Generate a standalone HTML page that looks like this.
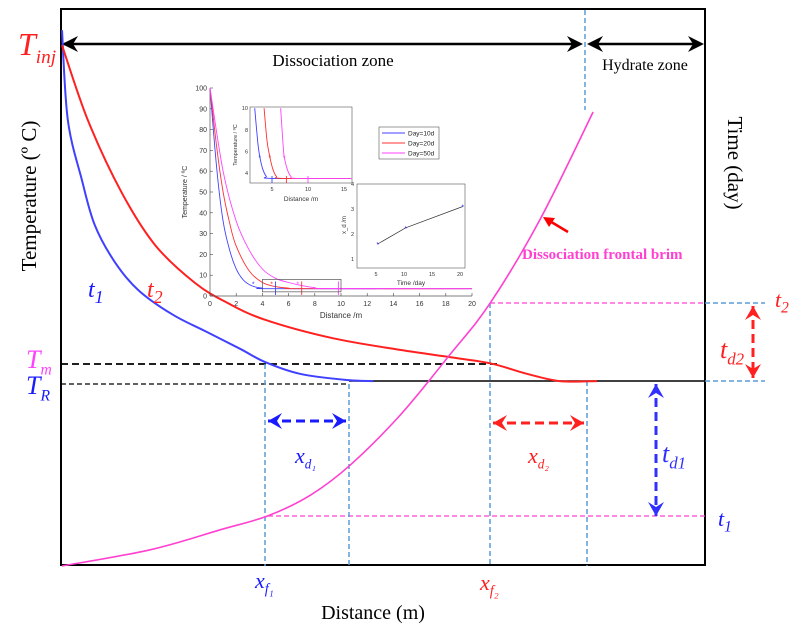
<!DOCTYPE html>
<html><head><meta charset="utf-8">
<style>
html,body{margin:0;padding:0;background:#fff;}
svg{display:block;font-family:"Liberation Serif",serif;}
.sans{font-family:"Liberation Sans",sans-serif;}
</style></head>
<body>
<svg id="fig" width="794" height="632" viewBox="0 0 794 632" xmlns="http://www.w3.org/2000/svg">
<g id="main"></g>
<g id="inset"></g>
</svg>
<script>
// ---- main schematic data (domain 0..100 both axes) ----
const blueX=[0,0.9,3.1,5.1,8.2,11.8,17.1,22.2,27.7,31.6,37,44.3,48.4];
const blueY=[96.2,80.1,69.3,61.2,54.6,49.6,45.2,42.2,39,36.6,34.5,33.4,33.2];
const redX=[0,4,9.3,14.5,20.7,25.8,31.6,42.1,52.6,60.3,66.6,72,77.4,83.2];
const redY=[93.5,80.1,67,57.6,50.8,47.2,44.2,40.9,38.8,37.5,36.4,34.6,33.2,33.2];
const frontX=[0,13.7,24.6,32,38.6,44.8,52.6,60.3,66.6,74.3,82.6];
const frontY=[0,2.9,6.5,9,12.7,18.1,27.1,37.9,47.2,62.1,81.5];
// ---- inset main plot ----
const insXTicks=[0,2,4,6,8,10,12,14,16,18,20];
const insYTicks=[0,10,20,30,40,50,60,70,80,90,100];
const d10X=[0,0.5,1,1.5,2,2.5,3,3.5,4,5,20], d10T=[100,62,36,22,13,8,5.5,4.3,3.8,3.5,3.5];
const d20X=[0,0.5,1,1.5,2,3,4,5,6,7,20], d20T=[100,72,50,35,24,12,6.5,4.5,3.8,3.5,3.5];
const d50X=[0,1,2,3,4,5,6,7,8,9,20], d50T=[100,60,36,22,13,8.5,6.5,5,4,3.6,3.5];
const markX=[3.3,4.7,6.7], markT=[6,6,6];
const frontLineX=[5,7,9.8];
// ---- zoom inset ----
const zXTicks=[5,10,15], zYTicks=[4,6,8,10];
const z10X=[2.6,3,3.3,3.7,4.2,5,16], z20X=[3.9,4.3,4.7,5.1,5.6,6.5,16], z50X=[6.2,6.5,6.7,7.1,7.6,8.5,16];
const zT=[10,7,5.5,4.4,3.7,3.5,3.5];
const zMarkX=[3.3,4.7,6.7], zMarkT=[5.5,5.5,5.5];
const zLineX=[5,7,10];
// ---- xd vs time inset ----
const tXTicks=[5,10,15,20], tYTicks=[1,2,3,4];
const timeDays=[5.3,10.3,20.5], xdVals=[1.6,2.25,3.1];
const colors=['#4040ff','#ff3030','#ff40ff'];

const NS='http://www.w3.org/2000/svg';
function mk(parent,tag,attrs,text){const e=document.createElementNS(NS,tag);for(const k in attrs)e.setAttribute(k,attrs[k]);if(text!==undefined)e.textContent=text;parent.appendChild(e);return e;}
const M=document.getElementById('main'), I=document.getElementById('inset');
const X=v=>62+v*6.43, Y=v=>566-v*5.57;
function path(xs,ys,fx,fy){return xs.map((x,i)=>(i?'L':'M')+fx(x).toFixed(1)+','+fy(ys[i]).toFixed(1)).join(' ');}
function smooth(xs,ys,fx,fy){const p=xs.map((x,i)=>[fx(x),fy(ys[i])]);let d='M'+p[0][0]+','+p[0][1];for(let i=0;i<p.length-1;i++){const p0=p[i-1]||p[i],p1=p[i],p2=p[i+1],p3=p[i+2]||p2;d+=' C'+(p1[0]+(p2[0]-p0[0])/6).toFixed(1)+','+(p1[1]+(p2[1]-p0[1])/6).toFixed(1)+' '+(p2[0]-(p3[0]-p1[0])/6).toFixed(1)+','+(p2[1]-(p3[1]-p1[1])/6).toFixed(1)+' '+p2[0].toFixed(1)+','+p2[1].toFixed(1);}return d;}

let e=mk(M,'rect',{x:61,y:9,width:644,height:556,fill:'none',stroke:'#000','stroke-width':2});

const L=(a,dn,st)=>{e=mk(M,'line',Object.assign({},a,st));};
const blueDash={stroke:'#5b9bd5','stroke-width':1.5,'stroke-dasharray':'5,3'};
L({x1:61,y1:364,x2:498,y2:364},'tm-line',{stroke:'#000','stroke-width':1.8,'stroke-dasharray':'7,4'});
L({x1:61,y1:384,x2:349,y2:384},'tr-line',{stroke:'#000','stroke-width':1.3,'stroke-dasharray':'5,3'});
L({x1:349,y1:381,x2:705,y2:381},'tr-solid-line',{stroke:'#000','stroke-width':1.5});
L({x1:490,y1:303,x2:705,y2:303},'t2-line',{stroke:'#ff40d0','stroke-width':1.3,'stroke-dasharray':'5,3'});
L({x1:705,y1:303,x2:765,y2:303},'t2-ext-line',blueDash);
L({x1:705,y1:381,x2:765,y2:381},'tr-ext-line',blueDash);
L({x1:268,y1:516,x2:705,y2:516},'t1-line',{stroke:'#ff40d0','stroke-width':1.3,'stroke-dasharray':'5,3'});
L({x1:265,y1:364,x2:265,y2:566},'xf1-line',blueDash);
L({x1:349,y1:384,x2:349,y2:566},'xf1-end-line',blueDash);
L({x1:490,y1:303,x2:490,y2:566},'xf2-line',blueDash);
L({x1:587,y1:381,x2:587,y2:566},'xf2-end-line',blueDash);
L({x1:585,y1:10,x2:585,y2:110},'zone-divider',blueDash);
function head(x,y,dir){mk(M,'path',{d:`M${x},44 L${x+dir*16},36 L${x+dir*11},44 L${x+dir*16},52 Z`,fill:'#000'});}
L({x1:64,y1:44,x2:580,y2:44},'dissociation-zone-arrow',{stroke:'#000','stroke-width':2.5});
head(62,44,1);head(583,44,-1);
L({x1:590,y1:44,x2:700,y2:44},'hydrate-zone-arrow',{stroke:'#000','stroke-width':2.5});
head(587,44,1);head(704,44,-1);
e=mk(M,'path',{d:smooth(blueX,blueY,X,Y),fill:'none',stroke:'#4040ff','stroke-width':2});
e=mk(M,'path',{d:smooth(redX,redY,X,Y),fill:'none',stroke:'#ff2020','stroke-width':2});
e=mk(M,'path',{d:smooth(frontX,frontY,X,Y),fill:'none',stroke:'#ff40d0','stroke-width':1.6});
function darrow(x1,y1,x2,y2,col,dn){const g=mk(M,'g',{});
 mk(g,'line',{x1:x1,y1:y1,x2:x2,y2:y2,stroke:col,'stroke-width':3,'stroke-dasharray':'9,5'});
 const ang=Math.atan2(y2-y1,x2-x1);
 [[x1,y1,ang+Math.PI],[x2,y2,ang]].forEach(([x,y,a])=>{const c=Math.cos(a),s=Math.sin(a);const p=[[x,y],[x-14*c+8*s,y-14*s-8*c],[x-9*c,y-9*s],[x-14*c-8*s,y-14*s+8*c]];mk(g,'path',{d:'M'+p.map(q=>q[0].toFixed(1)+','+q[1].toFixed(1)).join(' L')+' Z',fill:col});});}
darrow(268,421,346,421,'#1a1aff','xd1-arrow');
darrow(493,423,584,423,'#ff2020','xd2-arrow');
darrow(656,384,656,516,'#3030ff','td1-arrow');
darrow(753,306,753,378,'#ff2020','td2-arrow');
e=mk(M,'line',{x1:568,y1:232,x2:548,y2:220,stroke:'#ff0000','stroke-width':2.5});
mk(M,'path',{d:'M543,217 L555,218 L549,227 Z',fill:'#ff0000'});
function T(x,y,s,o,dn){e=mk(M,'text',Object.assign({x:x,y:y},o),s);return e;}
function sub(x,y,main,subs,col,fs,dn,sf){e=mk(M,'text',{x:x,y:y,fill:col,'font-size':fs,'font-style':'italic'});mk(e,'tspan',{},main);mk(e,'tspan',{'font-size':fs*(sf||0.6),dy:fs*0.25},subs);}
sub(18,55,'T','inj','#ff2020',32,'t-inj-label');
sub(26,368,'T','m','#ff40ff',26,'t-m-label');
sub(26,394,'T','R','#1a1aff',26,'t-r-label');
sub(88,297,'t','1','#1a1aff',24,'t1-curve-label',0.75);
sub(147,297,'t','2','#ff2020',24,'t2-curve-label',0.75);
sub(295,463,'x','d\u2081','#1a1aff',22,'xd1-label',0.6);
sub(528,463,'x','d\u2082','#ff2020',22,'xd2-label',0.6);
sub(662,462,'t','d1','#3030ff',26,'td1-label',0.65);
sub(720,358,'t','d2','#ff2020',26,'td2-label',0.65);
sub(775,307,'t','2','#ff2020',22,'t2-axis-label',0.7);
sub(718,526,'t','1','#1a1aff',22,'t1-axis-label',0.7);
sub(255,588,'x','f\u2081','#1a1aff',22,'xf1-label',0.65);
sub(480,590,'x','f\u2082','#ff2020',22,'xf2-label',0.65);
T(373,619,'Distance (m)',{'font-size':20,'text-anchor':'middle'},'x-axis-title');
T(0,0,'Temperature (\u00BA C)',{'font-size':21,'text-anchor':'middle',transform:'translate(36,196) rotate(-90)'},'y-axis-title');
T(0,0,'Time (day)',{'font-size':21,'text-anchor':'middle',transform:'translate(728,163) rotate(90)'},'right-axis-title');
T(333,66,'Dissociation zone',{'font-size':17,'text-anchor':'middle'},'dissociation-zone-label');
T(645,70,'Hydrate zone',{'font-size':16,'text-anchor':'middle'},'hydrate-zone-label');
T(522,259,'Dissociation frontal brim',{'font-size':15,'font-weight':'bold',fill:'#ff40d0'},'front-label');

// ---- inset plot ----
const ix=v=>210+v*13.1, iy=v=>296-v*2.08;
const g1=mk(I,'g',{class:'sans'});
mk(g1,'line',{x1:210,y1:88,x2:210,y2:296,stroke:'#555','stroke-width':0.7});
mk(g1,'line',{x1:210,y1:296,x2:472,y2:296,stroke:'#555','stroke-width':0.7});
insXTicks.forEach(t=>{mk(g1,'line',{x1:ix(t),y1:296,x2:ix(t),y2:293,stroke:'#444','stroke-width':0.6});e=mk(g1,'text',{x:ix(t),y:306,'font-size':7,'text-anchor':'middle',fill:'#333'},t);});
insYTicks.forEach(t=>{mk(g1,'line',{x1:210,y1:iy(t),x2:213,y2:iy(t),stroke:'#444','stroke-width':0.6});e=mk(g1,'text',{x:207,y:iy(t)+2.5,'font-size':7,'text-anchor':'end',fill:'#333'},t);});
mk(g1,'text',{x:341,y:318,'font-size':8,'text-anchor':'middle',fill:'#333'},'Distance /m');
mk(g1,'text',{x:0,y:0,'font-size':7,'text-anchor':'middle',fill:'#333',transform:'translate(187,192) rotate(-90)'},'Temperature / \u00BAC');
[[d10X,d10T],[d20X,d20T],[d50X,d50T]].forEach(([xs,ts],i)=>{e=mk(g1,'path',{d:smooth(xs,ts,ix,iy),fill:'none',stroke:colors[i],'stroke-width':0.9});});
markX.forEach((m,i)=>{e=mk(g1,'text',{x:ix(m),y:iy(markT[i])+3,'font-size':7,'text-anchor':'middle',fill:colors[i]},'*');});
frontLineX.forEach((m,i)=>mk(g1,'line',{x1:ix(m),y1:iy(0.5),x2:ix(m),y2:iy(7),stroke:colors[i],'stroke-width':0.9}));
mk(g1,'rect',{x:ix(4),y:iy(8),width:ix(10)-ix(4),height:iy(2)-iy(8),fill:'none',stroke:'#555','stroke-width':0.7});
const zx=v=>236+v*7.2, zy=v=>173-(v-4)*10.8;
const g2=mk(I,'g',{class:'sans'});
mk(g2,'rect',{x:250,y:107,width:102,height:76,fill:'#fff',stroke:'#555','stroke-width':0.6});
zXTicks.forEach(t=>mk(g2,'text',{x:zx(t),y:191,'font-size':5.5,'text-anchor':'middle',fill:'#333'},t));
zYTicks.forEach(t=>mk(g2,'text',{x:248,y:zy(t)+2,'font-size':5.5,'text-anchor':'end',fill:'#333'},t));
mk(g2,'text',{x:301,y:201,'font-size':6.5,'text-anchor':'middle',fill:'#333'},'Distance /m');
mk(g2,'text',{x:0,y:0,'font-size':5.5,'text-anchor':'middle',fill:'#333',transform:'translate(237,145) rotate(-90)'},'Temperature / \u00BAC');
[z10X,z20X,z50X].forEach((xs,i)=>mk(g2,'path',{d:smooth(xs,zT,zx,zy),fill:'none',stroke:colors[i],'stroke-width':0.9}));
zMarkX.forEach((m,i)=>mk(g2,'text',{x:zx(m),y:zy(zMarkT[i])+3,'font-size':7,'text-anchor':'middle',fill:colors[i]},'*'));
zLineX.forEach((m,i)=>mk(g2,'line',{x1:zx(m),y1:183,x2:zx(m),y2:176,stroke:colors[i],'stroke-width':0.9}));
const g3=mk(I,'g',{class:'sans'});
mk(g3,'rect',{x:379,y:127,width:60,height:32,fill:'#fff',stroke:'#555','stroke-width':0.6});
['Day=10d','Day=20d','Day=50d'].forEach((s,i)=>{mk(g3,'line',{x1:382,y1:133+i*10,x2:405,y2:133+i*10,stroke:colors[i],'stroke-width':0.9});e=mk(g3,'text',{x:408,y:135.5+i*10,'font-size':6.5,fill:'#222'},s);});
const tx=v=>348+v*5.6, ty=v=>259-(v-1)*25;
const g4=mk(I,'g',{class:'sans'});
mk(g4,'rect',{x:357,y:184,width:108,height:84,fill:'#fff',stroke:'#555','stroke-width':0.6});
tXTicks.forEach(t=>mk(g4,'text',{x:tx(t),y:276,'font-size':5.5,'text-anchor':'middle',fill:'#333'},t));
tYTicks.forEach(t=>mk(g4,'text',{x:354,y:ty(t)+2,'font-size':5.5,'text-anchor':'end',fill:'#333'},t));
mk(g4,'text',{x:411,y:285,'font-size':6.5,'text-anchor':'middle',fill:'#333'},'Time /day');
mk(g4,'text',{x:0,y:0,'font-size':6,'text-anchor':'middle',fill:'#333',transform:'translate(346,225) rotate(-90)'},'x_d /m');
mk(g4,'path',{d:path(timeDays,xdVals,tx,ty),fill:'none',stroke:'#333','stroke-width':0.7});
timeDays.forEach((d,i)=>{e=mk(g4,'text',{x:tx(d),y:ty(xdVals[i])+3,'font-size':7,'text-anchor':'middle',fill:'#3030ff'},'*');});
</script>
</body></html>
